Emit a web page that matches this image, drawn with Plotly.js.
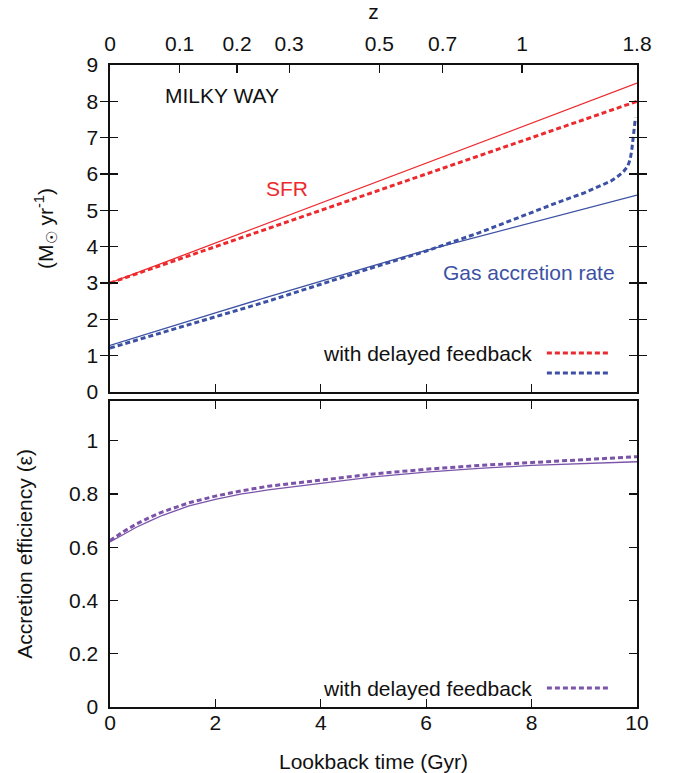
<!DOCTYPE html>
<html>
<head>
<meta charset="utf-8">
<script src="https://cdn.plot.ly/plotly-3.0.1.min.js"></script>
<style>html,body{margin:0;padding:0;background:#fff;}</style>
</head>
<body>
<div id="chart" style="width:676px;height:773px;"></div>
<script>
// ---- data ----
const timeLin = [0, 1, 2, 3, 4, 5, 6, 7, 8, 9, 10];
const sfr = [3.0, 3.55, 4.1, 4.65, 5.2, 5.75, 6.3, 6.85, 7.4, 7.95, 8.5];
const sfrDelayed = [3.0, 3.5, 4.0, 4.5, 5.0, 5.5, 6.0, 6.5, 7.0, 7.5, 8.0];
const accretion = [1.28, 1.74, 2.18, 2.62, 3.06, 3.48, 3.9, 4.28, 4.66, 5.04, 5.42];

const timeAccDelayed = [0, 1, 2, 3, 4, 5, 6, 6.5, 7, 7.5, 8, 8.5, 9, 9.3, 9.5, 9.65, 9.75, 9.82, 9.87, 9.9, 9.93, 9.95, 9.97];
const accretionDelayed = [1.21, 1.63, 2.07, 2.5, 2.97, 3.43, 3.88, 4.12, 4.38, 4.66, 4.95, 5.22, 5.48, 5.66, 5.8, 5.95, 6.08, 6.2, 6.4, 6.65, 7.0, 7.3, 7.55];

const timeEff = [0, 0.25, 0.5, 0.75, 1, 1.5, 2, 2.5, 3, 4, 5, 6, 7, 8, 9, 10];
const efficiency = [0.62, 0.648, 0.675, 0.698, 0.72, 0.755, 0.78, 0.8, 0.815, 0.84, 0.864, 0.882, 0.896, 0.907, 0.915, 0.921];
const efficiencyDelayed = [0.625, 0.658, 0.687, 0.712, 0.733, 0.767, 0.792, 0.812, 0.829, 0.853, 0.875, 0.893, 0.907, 0.918, 0.928, 0.94];

const zTickTime = [0, 1.32, 2.41, 3.40, 5.11, 6.31, 7.82, 10.0];
const zTickLabels = ['0', '0.1', '0.2', '0.3', '0.5', '0.7', '1', '1.8'];
const xTickVals = [0, 2, 4, 6, 8, 10];

// ---- styles ----
const RED = '#ec2a2e';
const BLUE = '#3c51a3';
const PURPLE = '#7b54a9';
const FONT = 'Liberation Sans, Arial, Helvetica, sans-serif';
const FS = 21;
const DASH = '5px,3px';

const traces = [
  {x: timeLin, y: sfr, xaxis: 'x2', yaxis: 'y2', mode: 'lines', line: {color: RED, width: 1.3}},
  {x: timeLin, y: sfrDelayed, xaxis: 'x2', yaxis: 'y2', mode: 'lines', line: {color: RED, width: 3, dash: DASH}},
  {x: timeLin, y: accretion, xaxis: 'x2', yaxis: 'y2', mode: 'lines', line: {color: BLUE, width: 1.3}},
  {x: timeAccDelayed, y: accretionDelayed, xaxis: 'x2', yaxis: 'y2', mode: 'lines', line: {color: BLUE, width: 3, dash: DASH}},
  {x: timeEff, y: efficiency, xaxis: 'x', yaxis: 'y', mode: 'lines', line: {color: PURPLE, width: 1.3}},
  {x: timeEff, y: efficiencyDelayed, xaxis: 'x', yaxis: 'y', mode: 'lines', line: {color: PURPLE, width: 3, dash: DASH}},
  {x: zTickTime, y: zTickTime.map(() => null), xaxis: 'x3', yaxis: 'y2', mode: 'lines', hoverinfo: 'skip'}
];

const axisCommon = {
  showgrid: false, zeroline: false, showline: true, linecolor: '#111', linewidth: 1.6,
  ticks: 'inside', ticklen: 8, tickwidth: 1.3, tickcolor: '#111',
  tickfont: {family: FONT, size: FS, color: '#111'}
};

const layout = {
  width: 676, height: 773,
  margin: {l: 110, r: 39, t: 65, b: 66},
  paper_bgcolor: '#fff', plot_bgcolor: '#fff',
  showlegend: false,
  font: {family: FONT, size: FS, color: '#111'},
  xaxis: Object.assign({}, axisCommon, {
    domain: [0, 1], anchor: 'y', range: [0, 10], tickvals: xTickVals,
    mirror: 'allticks', ticklabelstandoff: -4,
    title: {text: 'Lookback time (Gyr)', font: {family: FONT, size: FS}, standoff: 21}
  }),
  yaxis: Object.assign({}, axisCommon, {
    domain: [0, 0.477], anchor: 'x', range: [0, 1.15], dtick: 0.2, tick0: 0,
    mirror: 'allticks', ticklabelstandoff: 6,
    title: {text: 'Accretion efficiency (ε)', font: {family: FONT, size: FS}, standoff: 30}
  }),
  xaxis2: Object.assign({}, axisCommon, {
    domain: [0, 1], anchor: 'y2', range: [0, 10], tickvals: xTickVals,
    showticklabels: false, mirror: true
  }),
  yaxis2: Object.assign({}, axisCommon, {
    domain: [0.4907, 1], anchor: 'x2', range: [0, 9], dtick: 1, tick0: 0,
    mirror: 'allticks', ticklabelstandoff: 6,
    title: {text: '(M<sub>☉</sub> yr<sup>-1</sup>)', font: {family: FONT, size: FS}, standoff: 27}
  }),
  xaxis3: Object.assign({}, axisCommon, {
    overlaying: 'x2', anchor: 'y2', side: 'top', range: [0, 10],
    tickvals: zTickTime, ticktext: zTickLabels, ticklabelstandoff: 4,
    title: {text: 'z', font: {family: FONT, size: FS}, standoff: 6}
  }),
  annotations: [
    {xref: 'x2', yref: 'y2', x: 2.13, y: 8.17, text: 'MILKY WAY', showarrow: false, font: {family: FONT, size: FS, color: '#111'}},
    {xref: 'x2', yref: 'y2', x: 3.36, y: 5.61, text: 'SFR', showarrow: false, font: {family: FONT, size: FS, color: RED}},
    {xref: 'x2', yref: 'y2', x: 7.95, y: 3.29, text: 'Gas accretion rate', showarrow: false, font: {family: FONT, size: FS, color: BLUE}},
    {xref: 'x2', yref: 'y2', x: 8.05, y: 1.07, xanchor: 'right', text: 'with delayed feedback', showarrow: false, font: {family: FONT, size: FS, color: '#111'}},
    {xref: 'x', yref: 'y', x: 8.05, y: 0.071, xanchor: 'right', text: 'with delayed feedback', showarrow: false, font: {family: FONT, size: FS, color: '#111'}}
  ],
  shapes: [
    {type: 'line', xref: 'x2', yref: 'y2', x0: 8.29, x1: 9.46, y0: 1.07, y1: 1.07, line: {color: RED, width: 3, dash: DASH}},
    {type: 'line', xref: 'x2', yref: 'y2', x0: 8.29, x1: 9.46, y0: 0.52, y1: 0.52, line: {color: BLUE, width: 3, dash: DASH}},
    {type: 'line', xref: 'x', yref: 'y', x0: 8.29, x1: 9.46, y0: 0.071, y1: 0.071, line: {color: PURPLE, width: 3, dash: DASH}}
  ]
};

Plotly.newPlot('chart', traces, layout, {staticPlot: true, displayModeBar: false});
</script>
</body>
</html>
